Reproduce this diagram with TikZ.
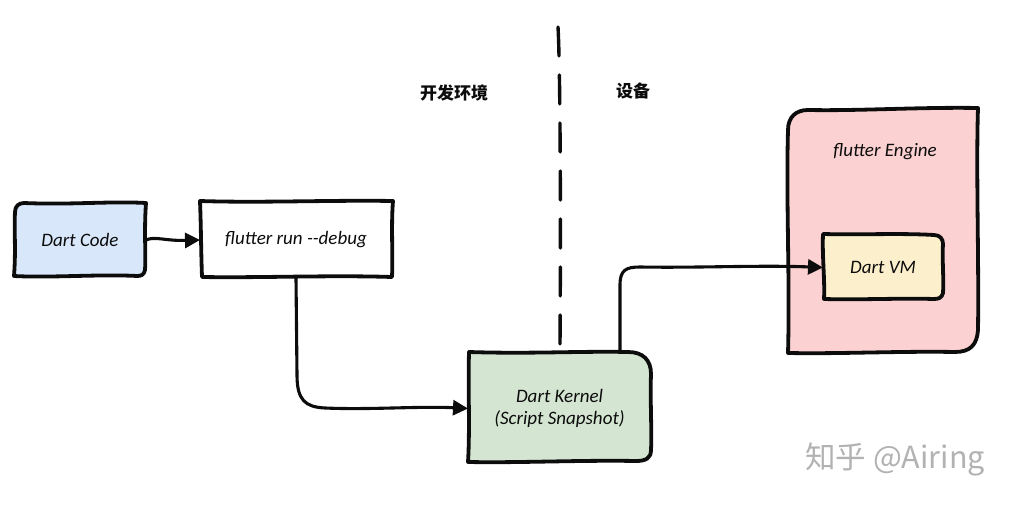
\documentclass[tikz,border=0pt]{standalone}
\usepackage{fontspec}
\setmainfont{Carlito}
\newfontfamily\cjk{Noto Sans CJK SC}
\usetikzlibrary{arrows.meta,calc}
\definecolor{codefill}{HTML}{D9E7FA}
\definecolor{kernelfill}{HTML}{D4E6D2}
\definecolor{enginefill}{HTML}{FBD1D1}
\definecolor{vmfill}{HTML}{FCF0CC}
\definecolor{inkc}{HTML}{0C0C0C}
\tikzset{
  x=1pt,y=-1pt,
  sketch/.style={draw=inkc,line width=3.8pt,line join=round,line cap=round},
  label box/.style={inner sep=0pt,outer sep=0pt,text=inkc,font=\fontsize{19}{21}\selectfont\itshape,align=center},
  flow/.style={draw=inkc,line width=3.1pt,line cap=round,-{Triangle[length=15pt,width=15pt]}},
  divider/.style={draw=inkc,line width=3.4pt,line cap=round,dash pattern=on 29pt off 19pt},
  zh/.style={inner sep=0pt,text=inkc,font=\cjk\bfseries\fontsize{17}{19}\selectfont},
  mark text/.style={inner sep=0pt,text=black!30,font=\cjk\fontsize{30.5}{33}\selectfont}
}
\begin{document}
\begin{tikzpicture}
\useasboundingbox (0,0) rectangle (1010,505);
% sketched shapes
\path[sketch,fill=codefill] (24,203) .. controls (70,205) and (110,201) .. (146,203)
  .. controls (144,230) and (146,255) .. (145,270) .. controls (144,275) and (141,276) .. (137,276)
  .. controls (100,274) and (50,278) .. (14,276) .. controls (16,250) and (14,230) .. (15,212)
  .. controls (15,206) and (19,203) .. (24,203) -- cycle;
\path[sketch,fill=white] (200,201) .. controls (260,203) and (330,200) .. (393,201)
  .. controls (391,225) and (393,255) .. (392,277) .. controls (330,275) and (260,278) .. (202,277)
  .. controls (201,250) and (201,225) .. (200,201) -- cycle;
\path[sketch,fill=kernelfill] (469,352) .. controls (530,354) and (580,351) .. (628,352)
  .. controls (643,352) and (651,360) .. (651,374) .. controls (650,400) and (652,430) .. (651,450)
  .. controls (651,458) and (646,461) .. (636,461) .. controls (580,460) and (520,463) .. (468,462)
  .. controls (470,430) and (468,390) .. (469,352) -- cycle;
\path[sketch,fill=enginefill] (808,110) .. controls (860,111) and (920,107) .. (978,108)
  .. controls (976,170) and (979,260) .. (978,330) .. controls (977,345) and (970,352) .. (955,352)
  .. controls (900,351) and (840,354) .. (788,353) .. controls (790,280) and (786,200) .. (788,130)
  .. controls (788,117) and (796,110) .. (808,110) -- cycle;
\path[sketch,fill=vmfill] (823,234) .. controls (860,235) and (900,233) .. (934,235)
  .. controls (940,235) and (943,239) .. (943,244) .. controls (942,260) and (944,280) .. (943,293)
  .. controls (942,298) and (938,299) .. (934,299) .. controls (900,298) and (860,300) .. (824,299)
  .. controls (825,280) and (822,255) .. (823,234) -- cycle;
% nodes carrying the texts
\node[label box,minimum width=132pt,minimum height=74pt] (code) at (80,240) {Dart Code};
\node[label box,minimum width=192pt,minimum height=76pt] (run) at (296,240) {flutter run {-}{-}debug};
\node[label box,minimum width=183pt,minimum height=110pt] (kernel) at (559.5,408.5) {Dart Kernel\\[1pt](Script Snapshot)};
\node[label box,minimum width=120pt,minimum height=66pt] (vm) at (883,267.5) {Dart VM};
\node[label box] (engine) at (885,152) {flutter Engine};
\node[zh] (dev) at (454,93) {开发环境};
\node[zh] (device) at (633,91) {设备};
\node[mark text] (mark) at (895,459) {知乎 @Airing};
% connectors
\coordinate (dtop) at (558,27);
\coordinate (dbot) at (560,344);
\coordinate (kout) at (620,352);
\draw[divider] (dtop) .. controls (560,60) and (561,200) .. (dbot);
\draw[flow] (code.east) .. controls (155,236) and (165,241) .. (run.west);
\draw[flow] (run.south) -- (297,375) .. controls (297,400) and (305,407) .. (325,408) .. controls (370,410) and (420,406) .. (kernel.west);
\draw[flow] (kout) -- (620,285) .. controls (620,270) and (626,267) .. (640,267) .. controls (700,268) and (760,265) .. (vm.west);
\end{tikzpicture}
\end{document}
